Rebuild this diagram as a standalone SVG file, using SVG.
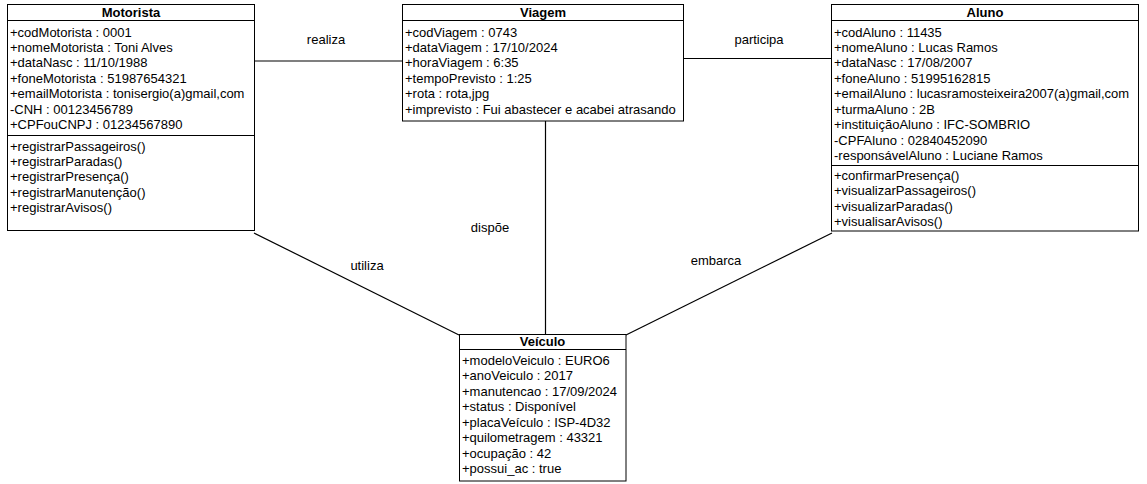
<svg xmlns="http://www.w3.org/2000/svg" width="1147" height="484" viewBox="0 0 1147 484">
<style>
text{font-family:"Liberation Sans",Arial,sans-serif;font-size:13px;fill:#000}
.t{font-weight:bold;text-anchor:middle}
.l{text-anchor:middle}
.b{fill:#fff;stroke:#000;stroke-width:1}
.d{stroke:#000;stroke-width:1}
.c{stroke:#000;stroke-width:1.2;fill:none}
</style>
<rect width="1147" height="484" fill="#fff"/>
<g id="connectors">
<line class="c" x1="254" y1="61" x2="402" y2="61"/>
<line class="c" x1="684" y1="58.5" x2="831" y2="58.5"/>
<line class="c" x1="545.5" y1="121" x2="545.5" y2="335"/>
<line class="c" x1="254" y1="233" x2="459" y2="335"/>
<line class="c" x1="832" y1="233" x2="626" y2="335"/>
<text class="l" x="326" y="43.5">realiza</text>
<text class="l" x="759" y="43.5">participa</text>
<text class="l" x="490" y="231.5">dispõe</text>
<text class="l" x="367" y="269.5">utiliza</text>
<text class="l" x="716" y="264.5">embarca</text>
</g>
<g id="motorista">
<rect class="b" x="7.5" y="4.5" width="247" height="226"/>
<line class="d" x1="7.5" y1="20.5" x2="254.5" y2="20.5"/>
<line class="d" x1="7.5" y1="135.5" x2="254.5" y2="135.5"/>
<text class="t" x="131" y="16.5">Motorista</text>
<text x="10" y="36.5">+codMotorista : 0001</text>
<text x="10" y="51.9">+nomeMotorista : Toni Alves</text>
<text x="10" y="67.4">+dataNasc : 11/10/1988</text>
<text x="10" y="82.8">+foneMotorista : 51987654321</text>
<text x="10" y="98.2">+emailMotorista : tonisergio(a)gmail,com</text>
<text x="10" y="113.6">-CNH : 00123456789</text>
<text x="10" y="129.1">+CPFouCNPJ : 01234567890</text>
<text x="10" y="150.5">+registrarPassageiros()</text>
<text x="10" y="165.9">+registrarParadas()</text>
<text x="10" y="181.4">+registrarPresença()</text>
<text x="10" y="196.8">+registrarManutenção()</text>
<text x="10" y="212.2">+registrarAvisos()</text>
</g>
<g id="viagem">
<rect class="b" x="402.5" y="4.5" width="281" height="116.5"/>
<line class="d" x1="402.5" y1="20.5" x2="683.5" y2="20.5"/>
<text class="t" x="543" y="16.5">Viagem</text>
<text x="405" y="36.5">+codViagem : 0743</text>
<text x="405" y="51.9">+dataViagem : 17/10/2024</text>
<text x="405" y="67.4">+horaViagem : 6:35</text>
<text x="405" y="82.8">+tempoPrevisto : 1:25</text>
<text x="405" y="98.2">+rota : rota,jpg</text>
<text x="405" y="113.6">+imprevisto : Fui abastecer e acabei atrasando</text>
</g>
<g id="aluno">
<rect class="b" x="831.5" y="4.5" width="307" height="226.5"/>
<line class="d" x1="831.5" y1="20.5" x2="1138.5" y2="20.5"/>
<line class="d" x1="831.5" y1="165.5" x2="1138.5" y2="165.5"/>
<text class="t" x="985" y="16.5">Aluno</text>
<text x="834" y="36.5">+codAluno : 11435</text>
<text x="834" y="51.9">+nomeAluno : Lucas Ramos</text>
<text x="834" y="67.4">+dataNasc : 17/08/2007</text>
<text x="834" y="82.8">+foneAluno : 51995162815</text>
<text x="834" y="98.2">+emailAluno : lucasramosteixeira2007(a)gmail,com</text>
<text x="834" y="113.6">+turmaAluno : 2B</text>
<text x="834" y="129.1">+instituiçãoAluno : IFC-SOMBRIO</text>
<text x="834" y="144.5">-CPFAluno : 02840452090</text>
<text x="834" y="159.9">-responsávelAluno : Luciane Ramos</text>
<text x="834" y="180">+confirmarPresença()</text>
<text x="834" y="195.4">+visualizarPassageiros()</text>
<text x="834" y="210.9">+visualizarParadas()</text>
<text x="834" y="226.3">+visualisarAvisos()</text>
</g>
<g id="veiculo">
<rect class="b" x="459.5" y="334.5" width="166.5" height="146.5"/>
<line class="d" x1="459.5" y1="349.5" x2="626" y2="349.5"/>
<text class="t" x="542.5" y="346">Veículo</text>
<text x="462" y="365">+modeloVeiculo : EURO6</text>
<text x="462" y="380.4">+anoVeiculo : 2017</text>
<text x="462" y="395.9">+manutencao : 17/09/2024</text>
<text x="462" y="411.3">+status : Disponível</text>
<text x="462" y="426.7">+placaVeículo : ISP-4D32</text>
<text x="462" y="442.1">+quilometragem : 43321</text>
<text x="462" y="457.6">+ocupação : 42</text>
<text x="462" y="473">+possui_ac : true</text>
</g>
</svg>
